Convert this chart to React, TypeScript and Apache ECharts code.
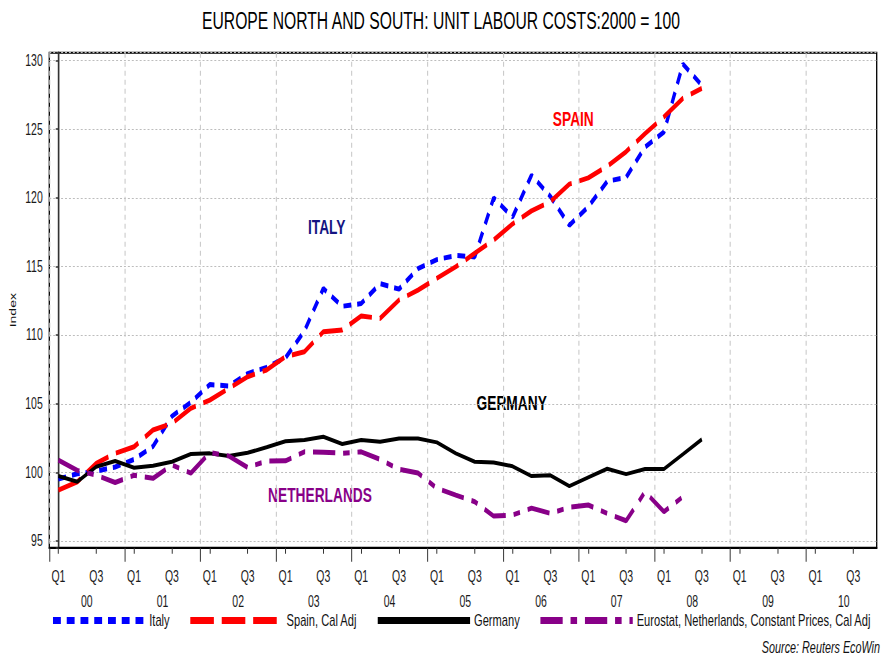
import React, { useEffect, useRef } from 'react';
import * as echarts from 'echarts';

const TITLE = 'EUROPE NORTH AND SOUTH: UNIT LABOUR COSTS:2000 = 100';
const SERIES_NAMES = ['Italy', 'Spain, Cal Adj', 'Germany', 'Eurostat, Netherlands, Constant Prices, Cal Adj'];
const QUARTER_LABELS = ['Q1', 'Q3'];
const YEAR_LABELS = ['00', '01', '02', '03', '04', '05', '06', '07', '08', '09', '10'];
const Y_NAME = 'Index';
const SOURCE = 'Source: Reuters EcoWin';

// quarterly values, first point = 2000 Q1
const italy = [99.52, 99.9, 100.1, 100.4, 100.95, 101.9, 104.1, 105.1, 106.4, 106.3, 107.2, 107.65, 108.35, 110.3, 113.4, 112.1, 112.3, 113.75, 113.35, 114.85, 115.5, 115.8, 115.7, 120.0, 118.6, 121.65, 120.1, 118.0, 119.35, 121.2, 121.5, 123.7, 124.8, 129.74, 128.2];
const spain = [98.72, 99.32, 100.66, 101.39, 101.87, 103.09, 103.57, 104.67, 105.27, 106.12, 106.97, 107.46, 108.43, 108.79, 110.25, 110.37, 111.39, 111.22, 112.56, 113.28, 114.14, 114.98, 115.96, 116.93, 118.1, 119.05, 119.72, 121.0, 121.45, 122.3, 123.36, 124.68, 125.9, 127.25, 127.97];
const germany = [99.74, 99.32, 100.41, 100.83, 100.34, 100.49, 100.78, 101.34, 101.39, 101.2, 101.43, 101.83, 102.27, 102.36, 102.6, 102.07, 102.36, 102.24, 102.48, 102.48, 102.19, 101.39, 100.78, 100.73, 100.45, 99.74, 99.79, 99.01, 99.64, 100.27, 99.88, 100.25, 100.25, 101.32, 102.41];
const netherlands = [100.9, 100.15, 99.8, 99.27, 99.8, 99.57, 100.54, 99.95, 101.45, 101.2, 100.37, 100.83, 100.85, 101.5, 101.48, 101.4, 101.5, 100.95, 100.23, 99.96, 98.85, 98.35, 97.87, 96.82, 96.9, 97.4, 97.02, 97.46, 97.63, 97.02, 96.48, 98.59, 97.14, 98.23];

// Horizontal squeeze of the whole picture
const W = 1356;
const H = 655;
const S = 888 / W;
const sx = (px: number) => px / S;

const FONT = "'Liberation Sans', Arial, sans-serif";
const X_MIN = -0.48;
const X_MAX = 43.24;

const toPairs = (arr: number[]) => arr.map((v, i) => [i, v]);

export default function App() {
  const ref = useRef<HTMLDivElement>(null);

  useEffect(() => {
    document.body.style.margin = '0';
    if (!ref.current) return;
    const chart = echarts.init(ref.current, null, { renderer: 'svg' });

    const nQuarters = YEAR_LABELS.length * 4;
    const qTicks: number[] = [];
    for (let i = 0; i < nQuarters; i += 2) qTicks.push(i);
    const yearTicks: number[] = [X_MIN];
    for (let k = 1; k < YEAR_LABELS.length; k++) yearTicks.push(k * 4 - 0.5);
    const yearMids = YEAR_LABELS.map((_, k) => k * 4 + 1.5);

    const labelColor = '#1a1a1a';

    const option: any = {
      animation: false,
      textStyle: { fontFamily: FONT },
      title: {
        text: TITLE,
        left: sx(441),
        top: 9,
        padding: 0,
        textAlign: 'center',
        textStyle: { fontSize: 24, fontWeight: 'normal', color: '#000', fontFamily: FONT },
      },
      grid: {
        left: sx(49.3),
        right: W - sx(876.7),
        top: 52.7,
        bottom: H - 547.7,
        show: true,
        borderColor: '#000',
        borderWidth: 2,
        backgroundColor: '#fff',
      },
      legend: {
        left: sx(50.7),
        top: 612,
        width: W - sx(50.7) - 2,
        padding: 0,
        itemWidth: 141,
        itemHeight: 14,
        itemGap: 28,
        textStyle: { fontSize: 17, color: '#111', fontFamily: FONT, padding: [0, 0, 0, 1] },
        data: SERIES_NAMES.map((n) => ({ name: n, lineStyle: { width: 7 }, itemStyle: { opacity: 0 } })),
      },
      xAxis: [
        {
          type: 'value',
          min: X_MIN,
          max: X_MAX,
          position: 'bottom',
          axisLine: { show: true, lineStyle: { color: '#000', width: 2 } },
          axisTick: { show: true, customValues: qTicks, length: 6, lineStyle: { color: '#333', width: 1.5 } },
          axisLabel: {
            customValues: qTicks,
            formatter: (v: number) => QUARTER_LABELS[Math.round(v / 2) % 2],
            margin: 21,
            fontSize: 16,
            color: labelColor,
            fontFamily: FONT,
          },
          splitLine: { show: false },
        },
        {
          type: 'value',
          min: X_MIN,
          max: X_MAX,
          position: 'bottom',
          axisLine: { show: false },
          axisTick: { show: true, customValues: yearTicks, length: 14, lineStyle: { color: '#333', width: 1.5 } },
          axisLabel: {
            customValues: yearMids,
            formatter: (v: number) => YEAR_LABELS[Math.round((v - 1.5) / 4)],
            margin: 46,
            fontSize: 16,
            color: labelColor,
            fontFamily: FONT,
          },
          splitLine: { show: true, lineStyle: { color: '#c8c8c8', width: 1.6, type: [5, 4] } },
        },
      ],
      yAxis: {
        type: 'value',
        min: 94.52,
        max: 130.57,
        splitNumber: 7,
        name: Y_NAME,
        nameLocation: 'middle',
        nameRotate: 90,
        nameGap: 48,
        nameTextStyle: { fontSize: 14, color: '#111', fontFamily: FONT, padding: [0, 20, 0, 0] },
        axisLine: { show: true, lineStyle: { color: '#333', width: 2.5 } },
        axisTick: { show: true, length: 4, lineStyle: { color: '#333', width: 1.5 } },
        axisLabel: {
          formatter: (v: number) => (Math.abs(v / 5 - Math.round(v / 5)) < 1e-6 ? String(Math.round(v)) : ''),
          margin: 10,
          fontSize: 16,
          color: labelColor,
          fontFamily: FONT,
        },
        splitLine: { show: true, lineStyle: { color: '#bdbdbd', width: 1.2, type: [3, 3] } },
      },
      series: [
        {
          name: SERIES_NAMES[0], type: 'line', data: toPairs(italy), symbol: 'none', xAxisIndex: 0,
          lineStyle: { color: '#0000ff', width: 5, type: [12, 9] }, itemStyle: { color: '#0000ff' },
        },
        {
          name: SERIES_NAMES[1], type: 'line', data: toPairs(spain), symbol: 'none', xAxisIndex: 0,
          lineStyle: { color: '#ff0000', width: 5, type: [36, 12] }, itemStyle: { color: '#ff0000' },
        },
        {
          name: SERIES_NAMES[2], type: 'line', data: toPairs(germany), symbol: 'none', xAxisIndex: 0,
          lineStyle: { color: '#000000', width: 4 }, itemStyle: { color: '#000000' },
        },
        {
          name: SERIES_NAMES[3], type: 'line', data: toPairs(netherlands), symbol: 'none', xAxisIndex: 0,
          lineStyle: { color: '#880088', width: 5, type: [34, 12, 10, 12] }, itemStyle: { color: '#880088' },
        },
      ],
      graphic: [
        { type: 'text', x: sx(326.7), y: 226.7, style: { text: 'ITALY', fill: '#141482', fontSize: 21, fontWeight: 'bold', fontFamily: FONT, textAlign: 'center', textVerticalAlign: 'middle' } },
        { type: 'text', x: sx(573.3), y: 119, style: { text: 'SPAIN', fill: '#ff0000', fontSize: 21, fontWeight: 'bold', fontFamily: FONT, textAlign: 'center', textVerticalAlign: 'middle' } },
        { type: 'text', x: sx(511.7), y: 403.3, style: { text: 'GERMANY', fill: '#000000', fontSize: 21, fontWeight: 'bold', fontFamily: FONT, textAlign: 'center', textVerticalAlign: 'middle' } },
        { type: 'text', x: sx(320), y: 494.7, style: { text: 'NETHERLANDS', fill: '#880088', fontSize: 21, fontWeight: 'bold', fontFamily: FONT, textAlign: 'center', textVerticalAlign: 'middle' } },
        { type: 'text', x: sx(880), y: 646.7, style: { text: SOURCE, fill: '#111', fontSize: 16.5, fontStyle: 'italic', fontFamily: FONT, textAlign: 'right', textVerticalAlign: 'middle' } },
      ],
    };

    chart.setOption(option);
    return () => chart.dispose();
  }, []);

  return (
    <div style={{ position: 'fixed', left: 0, top: 0, width: 888, height: H, overflow: 'hidden', background: '#fff' }}>
      <div
        ref={ref}
        style={{ width: W, height: H, transform: `scaleX(${S})`, transformOrigin: '0 0' }}
      />
    </div>
  );
}
